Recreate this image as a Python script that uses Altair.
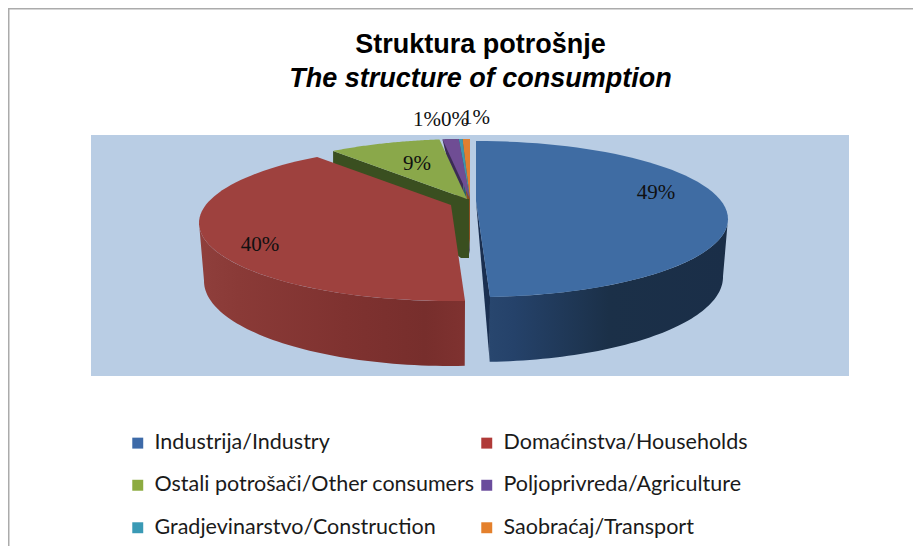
import math
import altair as alt

# ---------- data ----------
categories = ["Industrija/Industry", "Domaćinstva/Households", "Ostali potrošači/Other consumers",
              "Poljoprivreda/Agriculture", "Gradjevinarstvo/Construction", "Saobraćaj/Transport"]
values = [49.3, 39.6, 8.9, 1.3, 0.3, 0.6]
labels = ["49%", "40%", "9%", "1%", "0%", "1%"]
legend_colors = ["#3D6AA8", "#B03A38", "#8CAB40", "#6A4C9C", "#3A9AB5", "#E4802C"]
top_colors = ["#3F6CA3", "#9E413E", "#8AA84A", "#6F4D94", "#3F96AD", "#E07F30"]

# ---------- layout (page pixels) ----------
OX, OY = 8, 96
PAD_TOP = OY - 8
W, H = 905, 546 - OY
RX, RY, PERSP = 252, 78, 0.23
CENTRES = [(476, 219), (451, 223), (467, 217), (470, 217), (470, 217), (470, 217)]
DEPTH = [(247, 85, 58), (247, 85, 58), (247, 70, 40), (247, 70, 40), (247, 70, 40), (247, 70, 40)]
LABEL_POS = [(656, 193), (260, 245), (417, 164), (427, 120), (455, 120), (476, 118)]
RIGHT_TANGENT, LEFT_TANGENT = 103, 257


def persp(theta_deg):
    t = math.radians(theta_deg)
    X, Y = math.sin(t), math.cos(t)
    d = 1 + PERSP * Y
    return X * math.sqrt(1 - PERSP ** 2) / d, (Y + PERSP) / d


def top_ring(i, a0, a1, n=60):
    cx, cy = CENTRES[i]
    pts = []
    for k in range(n + 1):
        x, y = persp(a0 + (a1 - a0) * k / n)
        pts.append([cx + RX * x, cy - RY * y])
    return pts


def apex(i):
    cx, cy = CENTRES[i]
    return [cx, cy - RY * PERSP]


def bottom_ring(i, a0, a1, n=60):
    cx, cy0 = CENTRES[i]
    rx, ry, dy = DEPTH[i]
    pts = []
    for k in range(n + 1):
        x, y = persp(a0 + (a1 - a0) * k / n)
        pts.append([cx + rx * x, cy0 + dy - ry * y])
    return pts


def feature(pts):
    ring = pts + [pts[0]]
    return {"type": "Feature", "properties": {}, "geometry": {"type": "Polygon", "coordinates": [ring]}}


def shape(pts, fill):
    return alt.Chart(alt.Data(values=[feature(pts)])).mark_geoshape(fill=fill, strokeWidth=0, clip=False)


def grad(stops, x1=0, x2=1):
    return alt.Gradient(gradient="linear", x1=x1, x2=x2, y1=0, y2=0,
                        stops=[alt.GradientStop(color=c, offset=o) for o, c in stops])


angles = []
acc = 0.0
total = sum(values)
for v in values:
    angles.append((acc, acc + 360 * v / total))
    acc += 360 * v / total

layers = []

# legend carrier, hidden behind the band
legend = alt.Legend(title=None, orient="none", legendX=119, legendY=432 - OY, columns=2, direction="horizontal",
                    symbolType="square", symbolSize=120, symbolStrokeWidth=0,
                    labelFont="Lato", labelFontSize=21.5, labelColor="#1a1a1a", labelLimit=400,
                    rowPadding=19.5, columnPadding=1, labelOffset=6, gridAlign="each")
layers.append(
    alt.Chart(alt.Data(values=[{"c": c} for c in categories])).mark_square(opacity=1).encode(
        x=alt.value(400), y=alt.value(150),
        color=alt.Color("c:N", sort=categories,
                        scale=alt.Scale(domain=categories, range=legend_colors), legend=legend)
    )
)

# frame lines and background band
layers.append(shape([[8, 8], [9.5, 8], [9.5, 546], [8, 546]], "#ABABAB"))
layers.append(shape([[8, 8], [913, 8], [913, 9.5], [8, 9.5]], "#ABABAB"))
layers.append(shape([[91, 135], [849, 135], [849, 376], [91, 376]], "#B9CDE4"))

# small slices, far side
wall_colors = {3: "#3B2C55", 4: "#2A5F6E", 5: "#8A4F20"}
for i in [5, 4, 3]:
    a0, a1 = angles[i]
    layers.append(shape(top_ring(i, a0, a1, 10) + [[apex(i)[0], apex(i)[1] + 55]], wall_colors[i]))
    layers.append(shape([apex(i)] + top_ring(i, a0, a1, 10), top_colors[i]))

# green
a0, a1 = angles[2]
ap = apex(2)
first = top_ring(2, a0, a0, 1)[0]
layers.append(shape([first, ap, [469, ap[1]], [469, 258], [461, 258], [first[0], first[1] + 12]], "#3A4F20"))
layers.append(shape([ap] + top_ring(2, a0, a1), top_colors[2]))

# red
a0, a1 = angles[1]
layers.append(shape(top_ring(1, a0, LEFT_TANGENT) + bottom_ring(1, LEFT_TANGENT, a0),
                    grad([(0, "#8F3F3C"), (0.15, "#8A3A37"), (0.55, "#7F3230"), (0.85, "#772E2C"), (1, "#7F3230")])))
layers.append(shape([apex(1)] + top_ring(1, a0, a1), top_colors[1]))

# blue
a0, a1 = angles[0]
end_top = top_ring(0, a1, a1, 1)[0]
end_bot = bottom_ring(0, a1, a1, 1)[0]
layers.append(shape([apex(0), end_top, end_bot], "#1A2F50"))
layers.append(shape(top_ring(0, RIGHT_TANGENT, a1) + bottom_ring(0, a1, RIGHT_TANGENT),
                    grad([(0, "#1A2E48"), (0.5, "#1B3048"), (0.9, "#25426A"), (1, "#28466E")], x1=1, x2=0)))
layers.append(shape([apex(0)] + top_ring(0, a0, a1), top_colors[0]))

# data labels
for i in range(len(labels)):
    lx, ly = LABEL_POS[i]
    layers.append(
        alt.Chart(alt.Data(values=[{"t": labels[i]}])).mark_text(
            font="Liberation Serif", fontSize=21, color="#101010", align="center", baseline="middle"
        ).encode(x=alt.value(lx - OX), y=alt.value(ly - OY), text="t:N")
    )

title = alt.TitleParams(
    text="Struktura potrošnje", subtitle="The structure of consumption",
    font="Liberation Sans", fontSize=27, fontWeight="bold", color="#000000",
    subtitleFont="Liberation Sans", subtitleFontSize=27, subtitleFontWeight="bold",
    subtitleFontStyle="italic", subtitleColor="#000000", subtitlePadding=7,
    anchor="middle", dx=20, offset=-85,
)

chart = alt.layer(*layers).properties(
    width=W, height=H, title=title,
    padding={"left": 0, "right": 0, "top": PAD_TOP, "bottom": 0},
    autosize=alt.AutoSizeParams(type="none"),
).project(type="identity", scale=1, translate=[-OX, -OY]).configure_view(stroke=None)

chart.save("out.html", embed_options={"renderer": "svg", "actions": False})
